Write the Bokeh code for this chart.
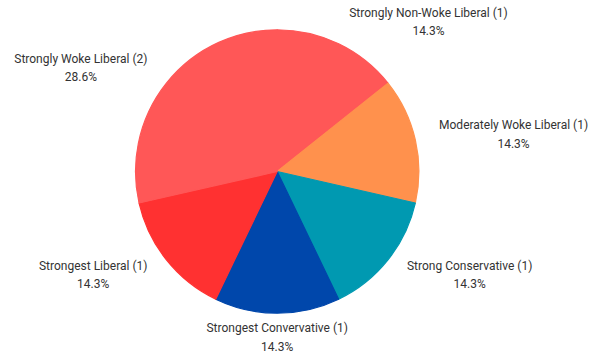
import math
from bokeh.plotting import figure
from bokeh.models import ColumnDataSource, Range1d
from bokeh.core.properties import value
from bokeh.embed import file_html
from bokeh.resources import INLINE

# Data (clockwise from 12 o'clock)
categories = ["Strongly Non-Woke Liberal", "Moderately Woke Liberal", "Strong Conservative",
              "Strongest Convervative", "Strongest Liberal", "Strongly Woke Liberal"]
counts = [1, 1, 1, 1, 1, 2]
colors = ["#FF5757", "#FF914D", "#0099B1", "#0047AB", "#FF3131", "#FF5757"]

W, H = 600, 354
cx, cy = 276.7, 354 - 171.0
R = 141.7
RL = 166.0

total = sum(counts)
starts, ends, mids, pcts = [], [], [], []
acc = 0
for c in counts:
    a0 = math.pi / 2 - 2 * math.pi * acc / total
    acc += c
    a1 = math.pi / 2 - 2 * math.pi * acc / total
    starts.append(a0)
    ends.append(a1)
    mids.append((a0 + a1) / 2)
    pcts.append(f"{100 * c / total:.1f}%")

lx = [cx + RL * math.cos(m) for m in mids]
ly = [cy + RL * math.sin(m) for m in mids]
anchors = []
for m in mids:
    c = math.cos(m)
    anchors.append("center_left" if c > 0.1 else ("center_right" if c < -0.1 else "center"))
labels = [f"{n} ({c})\n{pc}" for n, c, pc in zip(categories, counts, pcts)]

src = ColumnDataSource(dict(start=starts, end=ends, color=colors, lx=lx, ly=ly,
                            label=labels, anchor=anchors))

p = figure(width=W, height=H, output_backend="svg", toolbar_location=None,
           x_range=Range1d(0, W), y_range=Range1d(0, H), min_border=0)
p.axis.visible = False
p.grid.visible = False
p.outline_line_color = None
p.background_fill_color = "white"
p.border_fill_color = "white"

p.wedge(x=cx, y=cy, radius=R, start_angle="start", end_angle="end", direction="clock",
        fill_color="color", line_color="color", line_width=1.2, source=src)

p.text(x="lx", y="ly", text="label", source=src, anchor="anchor",
       text_align="center", text_baseline="middle", text_line_height=1.3,
       text_font=value("Roboto"), text_font_size="12px", text_color="#333333")

open("out.html", "w").write(file_html(p, INLINE))
